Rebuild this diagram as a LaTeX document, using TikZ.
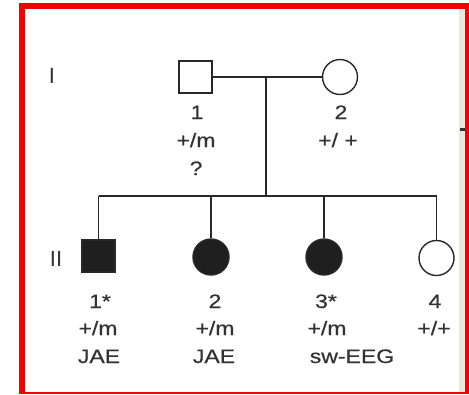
\documentclass[tikz,border=0pt]{standalone}
\usepackage{fontspec}
\newfontfamily\labfont[FakeStretch=1.18,FakeBold=0.6]{Liberation Sans}
\definecolor{redb}{RGB}{245,0,0}
\definecolor{ink}{RGB}{40,40,40}
\definecolor{txt}{RGB}{50,50,50}
\definecolor{beige}{RGB}{234,230,222}
\begin{document}
\begin{tikzpicture}[x=1pt,y=-1pt,
  lab/.style={font=\labfont\fontsize{19.5}{20}\selectfont, text=txt, inner sep=0pt, anchor=base},
  male/.style={draw=ink, line width=1.4pt, minimum width=33pt, minimum height=32pt, inner sep=0pt, rectangle},
  female/.style={draw=ink, line width=1.4pt, circle, minimum size=35pt, inner sep=0pt},
  aff/.style={fill=black!88},
  conn/.style={draw=ink, line width=1.4pt}]
\useasboundingbox (0,0) rectangle (469,394);
% frame
\fill[beige] (459,9) rectangle (465,392);
\fill[black!80] (460,128) rectangle (465,131);
\fill[redb] (19,3) rectangle (25,394);
\fill[redb] (19,3) rectangle (469,9);
\fill[redb] (465,3) rectangle (469,394);
\fill[redb] (19,392) rectangle (469,394);
% generation labels
\node[lab, anchor=center, font=\fontspec{Liberation Sans}\fontsize{22}{22}\selectfont] (g1) at (52,76) {I};
\node[lab, anchor=center, font=\fontspec{Liberation Sans}\fontsize{22}{22}\selectfont] (g2) at (56,259) {II};
% generation I
\node[male] (f1) at (195.5,77) {};
\node[female] (m2) at (340,77) {};
\coordinate (mid) at (266,77.5);
\coordinate (sib) at (266,196);
\draw[conn] (f1.east) -- (m2.west);
\draw[conn] (mid) -- (sib);
% sibship
\coordinate (s1) at (98.5,196);
\coordinate (s2) at (211,196);
\coordinate (s3) at (324,196);
\coordinate (s4) at (436.5,196);
\draw[conn] (s1) -- (s4);
% generation II
\node[male, aff] (k1) at (98.5,256) {};
\node[female, aff, minimum size=36pt] (k2) at (211,257) {};
\node[female, aff, minimum size=36pt] (k3) at (324,257) {};
\node[female] (k4) at (436.5,258) {};
\draw[conn] (s1) -- (k1.north);
\draw[conn] (s2) -- (k2.north);
\draw[conn] (s3) -- (k3.north);
\draw[conn] (s4) -- (k4.north);
% labels generation I
\node[lab] (t11) at (197,119) {1};
\node[lab] (t12) at (196,147) {+/m};
\node[lab] (t13) at (196,175) {?};
\node[lab] (t21) at (341,119) {2};
\node[lab] (t22) at (338,147) {+/ +};
% labels generation II
\node[lab] (u11) at (100,308) {1*};
\node[lab] (u12) at (98,335) {+/m};
\node[lab] (u13) at (99,363) {JAE};
\node[lab] (u21) at (215,308) {2};
\node[lab] (u22) at (215,335) {+/m};
\node[lab] (u23) at (214,363) {JAE};
\node[lab] (u31) at (326,308) {3*};
\node[lab] (u32) at (327,335) {+/m};
\node[lab] (u33) at (352,363) {sw-EEG};
\node[lab] (u41) at (435,308) {4};
\node[lab] (u42) at (434,335) {+/+};
\end{tikzpicture}
\end{document}
